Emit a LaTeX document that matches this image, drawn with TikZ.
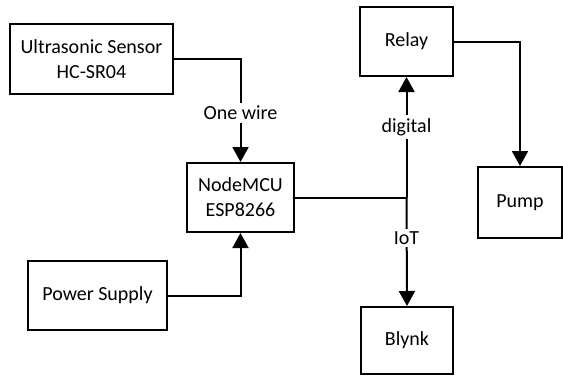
\documentclass[tikz,border=0pt]{standalone}
\usepackage{fontspec}
\setmainfont{Carlito}
\usetikzlibrary{arrows.meta, positioning}

\begin{document}
\begin{tikzpicture}[x=1pt,y=-1pt,
    block/.style={draw, line width=2pt, align=center, font=\fontsize{20}{25}\selectfont},
    wire/.style={line width=2pt},
    arrowwire/.style={wire, -{Triangle[length=15pt,width=16pt]}},
    wirelabel/.style={fill=white, inner sep=3pt, font=\fontsize{20}{25}\selectfont}]
    \useasboundingbox (0,0) rectangle (563,376);

    % Blocks
    \node[block, minimum width=163pt, minimum height=70pt] (sensor) at (91.5,59) {Ultrasonic Sensor\\HC-SR04};
    \node[block, minimum width=107pt, minimum height=69pt] (mcu) at (240.5,197.5) {NodeMCU\\ESP8266};
    \node[block, minimum width=139pt, minimum height=69pt] (power) at (97.5,295.5) {Power Supply};
    \node[block, minimum width=93pt, minimum height=69pt] (relay) at (406.5,41.5) {Relay};
    \node[block, minimum width=84pt, minimum height=71pt] (pump) at (520,202.5) {Pump};
    \node[block, minimum width=92pt, minimum height=67pt] (blynk) at (407,340.5) {Blynk};

    % Junction on the MCU output
    \coordinate (jn) at (relay.south |- mcu.east);

    % Sensor and power into the MCU
    \draw[arrowwire] (sensor.east) -| (mcu.north);
    \node[wirelabel] (onewire) at (240.5,113) {One wire};
    \draw[arrowwire] (power.east) -| (mcu.south);

    % MCU out to relay and Blynk
    \draw[wire] (mcu.east) -- (jn);
    \draw[arrowwire] (jn) -- (relay.south);
    \node[wirelabel] (digital) at (406.5,127) {digital};
    \draw[arrowwire] (jn) -- (blynk.north);
    \node[wirelabel] (iot) at (406.5,238) {IoT};

    % Relay drives the pump
    \draw[arrowwire] (relay.east) -| (pump.north);
\end{tikzpicture}
\end{document}
